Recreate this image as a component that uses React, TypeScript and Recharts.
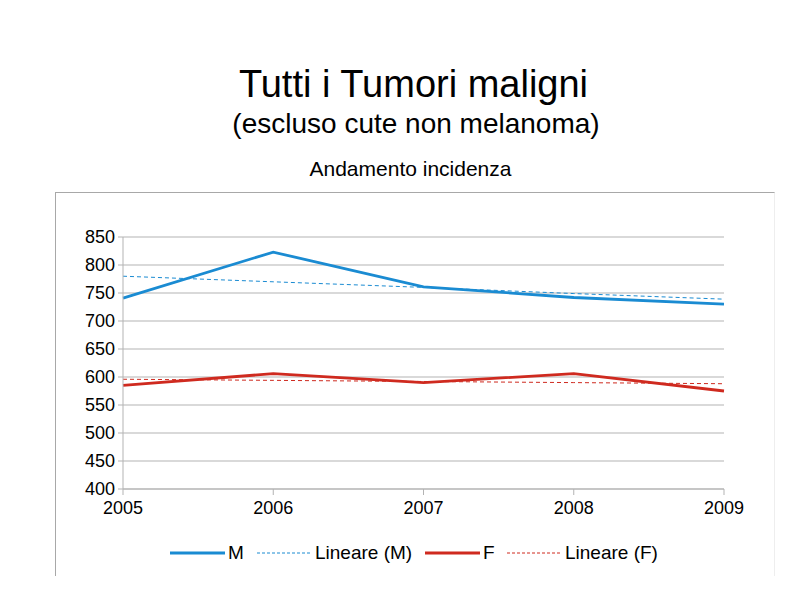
import React from "react";
import { LineChart, Line, XAxis, YAxis, CartesianGrid } from "recharts";

const years = ["2005", "2006", "2007", "2008", "2009"];
const maschi = [741, 823, 761, 742, 730];
const femmine = [585, 606, 590, 606, 575];
const lineareM = [780, 770, 760, 749, 739];
const lineareF = [596, 594, 592, 590, 588];
const yTicks = [400, 450, 500, 550, 600, 650, 700, 750, 800, 850];

const BLUE = "#1a8bd2";
const RED = "#cf2a1f";
const FONT = "'Liberation Sans', Arial, sans-serif";

const data = years.map((y, i) => ({
  year: y,
  M: maschi[i],
  LM: lineareM[i],
  F: femmine[i],
  LF: lineareF[i],
}));

const legendItems = [
  { label: "M", color: BLUE, dashed: false, x: 170, w: 55 },
  { label: "Lineare (M)", color: BLUE, dashed: true, x: 257, w: 55 },
  { label: "F", color: RED, dashed: false, x: 425, w: 55 },
  { label: "Lineare (F)", color: RED, dashed: true, x: 507, w: 55 },
];

export default function App() {
  return (
    <div
      style={{
        position: "absolute",
        left: 0,
        top: 0,
        width: 800,
        height: 600,
        background: "#fff",
        fontFamily: FONT,
        color: "#000",
      }}
    >
      <div style={{ position: "absolute", left: 55, top: 192, width: 718, height: 383, borderTop: "1px solid #a8a8a8", borderLeft: "1px solid #a8a8a8", borderRight: "1px solid #eeeeee" }} />
      <div style={{ position: "absolute", left: 0, width: 827, top: 63, textAlign: "center", fontSize: 38, lineHeight: "43px" }}>
        Tutti i Tumori maligni
      </div>
      <div style={{ position: "absolute", left: 0, width: 832, top: 107, textAlign: "center", fontSize: 28, lineHeight: "34px" }}>
        (escluso cute non melanoma)
      </div>
      <div style={{ position: "absolute", left: 0, width: 821, top: 157, textAlign: "center", fontSize: 21, lineHeight: "24px" }}>
        Andamento incidenza
      </div>
      <div style={{ position: "absolute", left: 0, top: 0 }}>
        <LineChart width={800} height={600} data={data} margin={{ top: 237, right: 76, bottom: 81, left: 63 }}>
          <CartesianGrid horizontal vertical={false} stroke="#b3b3b3" strokeWidth={1} />
          <XAxis
            dataKey="year"
            padding={{ left: 0, right: 0 }}
            height={30}
            stroke="#b3b3b3"
            tickSize={6}
            tickMargin={6}
            tick={{ fill: "#000", fontSize: 18, fontFamily: FONT }}
            interval={0}
          />
          <YAxis
            domain={[400, 850]}
            ticks={yTicks}
            width={60}
            stroke="#b3b3b3"
            tickSize={5}
            tickMargin={3}
            tick={{ fill: "#000", fontSize: 18, fontFamily: FONT }}
            interval={0}
          />
          <Line dataKey="LM" stroke={BLUE} strokeWidth={1} strokeDasharray="4 3" dot={false} isAnimationActive={false} />
          <Line dataKey="LF" stroke={RED} strokeWidth={1} strokeDasharray="4 3" dot={false} isAnimationActive={false} />
          <Line dataKey="M" stroke={BLUE} strokeWidth={2.8} dot={false} isAnimationActive={false} />
          <Line dataKey="F" stroke={RED} strokeWidth={2.8} dot={false} isAnimationActive={false} />
        </LineChart>
      </div>
      {legendItems.map((it) => (
        <div key={it.label} style={{ position: "absolute", left: it.x, top: 542, height: 22, display: "flex", alignItems: "center", fontSize: 19 }}>
          <svg width={it.w} height={4} style={{ marginRight: 3 }}>
            <line x1={0} y1={2} x2={it.w} y2={2} stroke={it.color} strokeWidth={it.dashed ? 1 : 3} strokeDasharray={it.dashed ? "3 2" : undefined} />
          </svg>
          <span>{it.label}</span>
        </div>
      ))}
    </div>
  );
}
